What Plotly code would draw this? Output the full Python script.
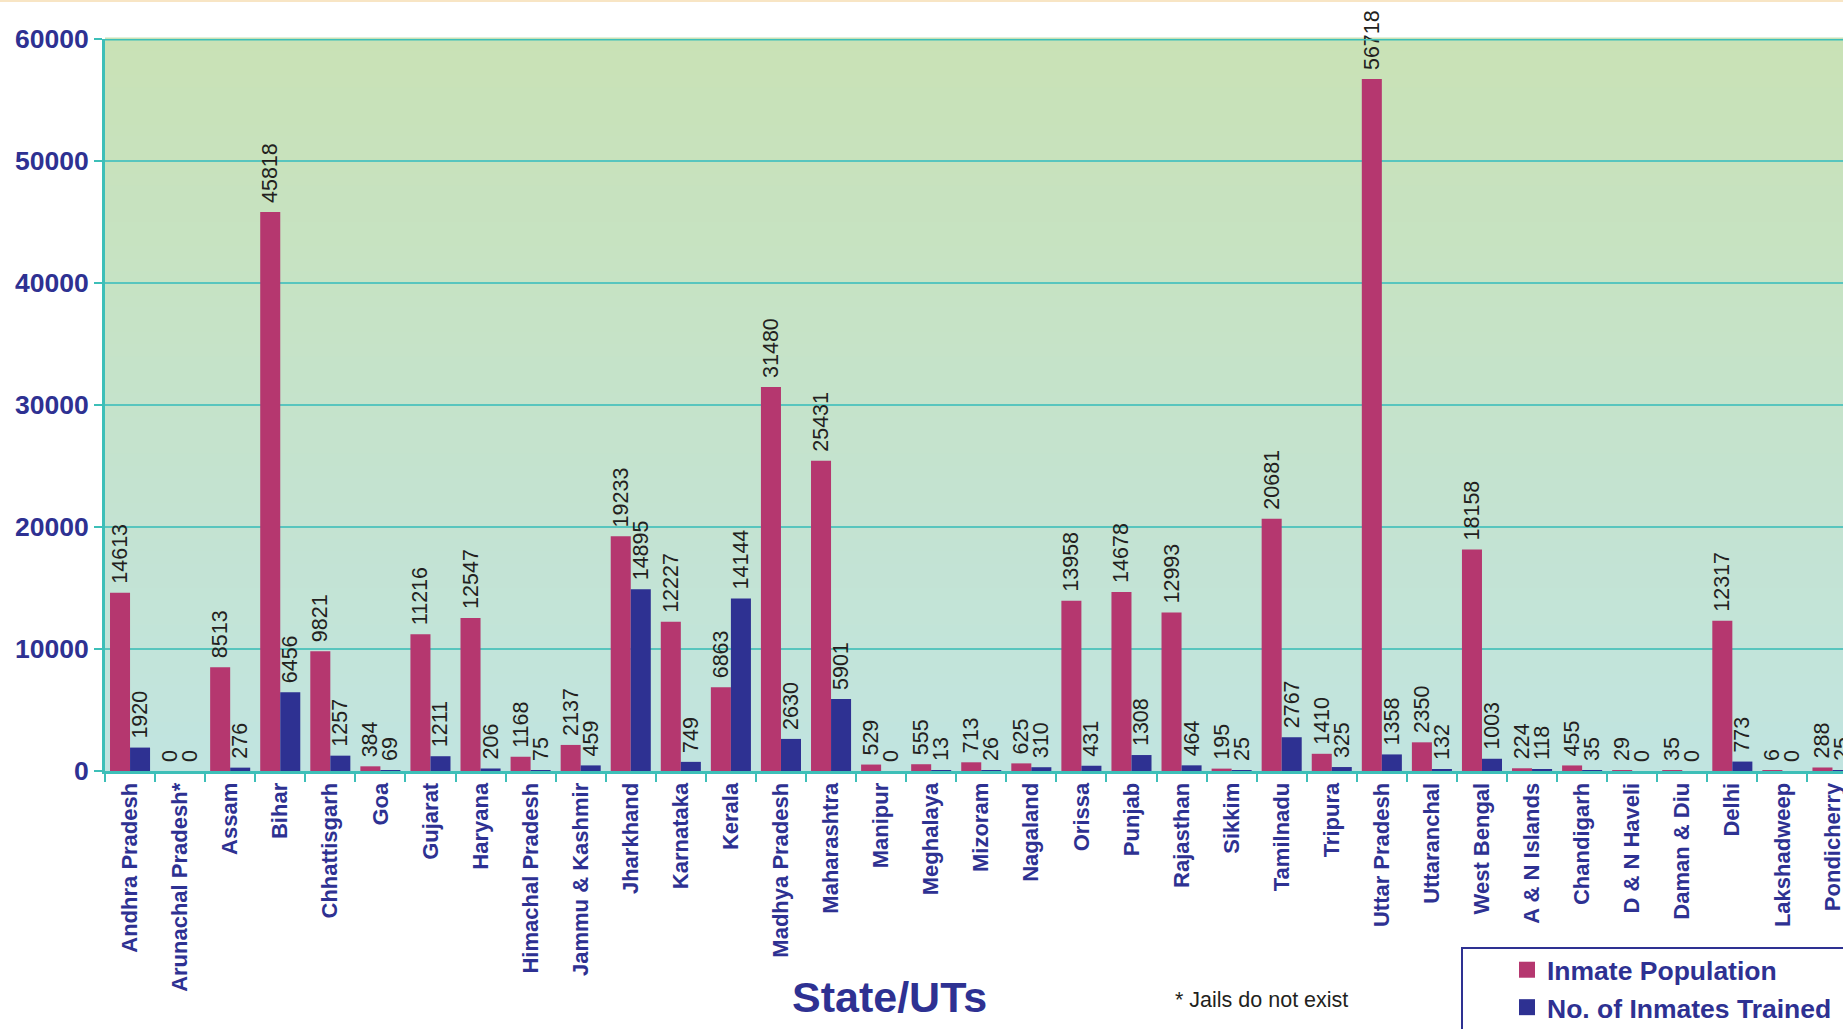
import plotly.graph_objects as go

# State / UT categories along the x axis
states = [
    "Andhra Pradesh", "Arunachal Pradesh*", "Assam", "Bihar", "Chhattisgarh",
    "Goa", "Gujarat", "Haryana", "Himachal Pradesh", "Jammu & Kashmir",
    "Jharkhand", "Karnataka", "Kerala", "Madhya Pradesh", "Maharashtra",
    "Manipur", "Meghalaya", "Mizoram", "Nagaland", "Orissa", "Punjab",
    "Rajasthan", "Sikkim", "Tamilnadu", "Tripura", "Uttar Pradesh",
    "Uttaranchal", "West Bengal", "A & N Islands", "Chandigarh",
    "D & N Haveli", "Daman & Diu", "Delhi", "Lakshadweep", "Pondicherry",
]

inmate_population = [
    14613, 0, 8513, 45818, 9821, 384, 11216, 12547, 1168, 2137,
    19233, 12227, 6863, 31480, 25431, 529, 555, 713, 625, 13958,
    14678, 12993, 195, 20681, 1410, 56718, 2350, 18158, 224, 455,
    29, 35, 12317, 6, 288,
]

inmates_trained = [
    1920, 0, 276, 6456, 1257, 69, 1211, 206, 75, 459,
    14895, 749, 14144, 2630, 5901, 0, 13, 26, 310, 431,
    1308, 464, 25, 2767, 325, 1358, 132, 1003, 118, 35,
    0, 0, 773, 0, 25,
]

y_ticks = [0, 10000, 20000, 30000, 40000, 50000, 60000]

PINK = "#B5376F"
NAVY = "#2E3192"
TEAL = "#3DBFB8"
GRID = "#58C5BE"
FONT = "Liberation Sans, Arial, sans-serif"

fig = go.Figure()

label_font = dict(family=FONT, size=21.5, color="#231F20")


def bar_labels(values):
    # a leading no-break space lifts the rotated value a little off the bar top
    return ["\u00a0" + str(v) for v in values]


fig.add_trace(go.Bar(
    x=states, y=inmate_population, name="Inmate Population",
    marker=dict(color=PINK, line=dict(width=0)),
    text=bar_labels(inmate_population), textposition="outside",
    textangle=-90, textfont=label_font, constraintext="none",
    cliponaxis=False, showlegend=False,
))
fig.add_trace(go.Bar(
    x=states, y=inmates_trained, name="No. of Inmates Trained",
    marker=dict(color=NAVY, line=dict(width=0)),
    text=bar_labels(inmates_trained), textposition="outside",
    textangle=-90, textfont=label_font, constraintext="none",
    cliponaxis=False, showlegend=False,
))

# legend entries with larger square swatches
for nm, col in [("Inmate Population", PINK), ("No. of Inmates Trained", NAVY)]:
    fig.add_trace(go.Scatter(
        x=[None], y=[None], mode="markers", name=nm,
        marker=dict(symbol="square", size=18, color=col),
    ))

# vertical gradient behind the plotting area (green at top to pale cyan at bottom)
top_rgb = (201, 226, 182)
bot_rgb = (193, 228, 224)
n_bands = 60
shapes = []
for i in range(n_bands):
    t = i / (n_bands - 1)
    r = round(bot_rgb[0] + (top_rgb[0] - bot_rgb[0]) * t)
    g = round(bot_rgb[1] + (top_rgb[1] - bot_rgb[1]) * t)
    b = round(bot_rgb[2] + (top_rgb[2] - bot_rgb[2]) * t)
    shapes.append(dict(
        type="rect", xref="paper", yref="paper", layer="below",
        x0=0, x1=1, y0=i / n_bands, y1=(i + 1) / n_bands + 0.002,
        fillcolor=f"rgb({r},{g},{b})", line=dict(width=0),
    ))

# heavy frame line along the top of the plotting area
shapes.append(dict(
    type="line", xref="paper", yref="y", x0=0, x1=1, y0=60000, y1=60000,
    line=dict(color=TEAL, width=3), layer="above",
))
# faint rule at the very top of the page
shapes.append(dict(
    type="line", xref="paper", yref="paper", x0=-0.1, x1=1.05, y0=1.052, y1=1.052,
    line=dict(color="#F6DDB0", width=1.5), layer="above",
))
# legend frame, running off the page edge
shapes.append(dict(
    type="rect", xref="paper", yref="paper",
    x0=(1462 - 105) / 1738, x1=1.05, y0=-0.42, y1=(771 - 948) / 732,
    line=dict(color=NAVY, width=2), fillcolor="rgba(0,0,0,0)", layer="above",
))

fig.update_layout(
    width=1843, height=1029,
    margin=dict(l=105, r=0, t=39, b=258, autoexpand=False),
    paper_bgcolor="white",
    plot_bgcolor="rgba(0,0,0,0)",
    barmode="group", bargap=0.2, bargroupgap=0,
    font=dict(family=FONT, color=NAVY),
    shapes=shapes,
    showlegend=True,
    legend=dict(
        x=(1507 - 105) / 1738, xanchor="left",
        y=(771 - 946) / 732, yanchor="top",
        font=dict(family=FONT, size=26.5, color=NAVY, weight="bold"),
        bgcolor="rgba(0,0,0,0)", borderwidth=0,
        tracegroupgap=0, itemsizing="trace",
    ),
    annotations=[
        dict(text="State/UTs", xref="paper", yref="paper",
             x=(889 - 105) / 1738, y=(771 - 997) / 732,
             xanchor="center", yanchor="middle", showarrow=False,
             font=dict(family=FONT, size=43, color=NAVY, weight="bold")),
        dict(text="* Jails do not exist", xref="paper", yref="paper",
             x=(1173 - 105) / 1738, y=(771 - 1000) / 732,
             xanchor="left", yanchor="middle", showarrow=False,
             font=dict(family=FONT, size=21.5, color="#231F20")),
    ],
)

fig.update_xaxes(
    type="category", range=[-0.5, 34.21],
    tickangle=-90, tickson="boundaries",
    ticks="outside", ticklen=8, tickwidth=2, tickcolor=TEAL,
    showline=True, linecolor=TEAL, linewidth=3,
    showgrid=False, zeroline=False,
    tickfont=dict(family=FONT, size=22, color=NAVY, weight="bold"),
)
fig.update_yaxes(
    range=[0, 60000], tickvals=y_ticks,
    ticktext=[str(v) for v in y_ticks],
    ticks="outside", ticklen=8, tickwidth=2, tickcolor=TEAL,
    showline=True, linecolor=TEAL, linewidth=3,
    showgrid=True, gridcolor=GRID, gridwidth=1.5, zeroline=False,
    tickfont=dict(family=FONT, size=26.5, color=NAVY, weight="bold"),
)

fig.write_html("out.html")
